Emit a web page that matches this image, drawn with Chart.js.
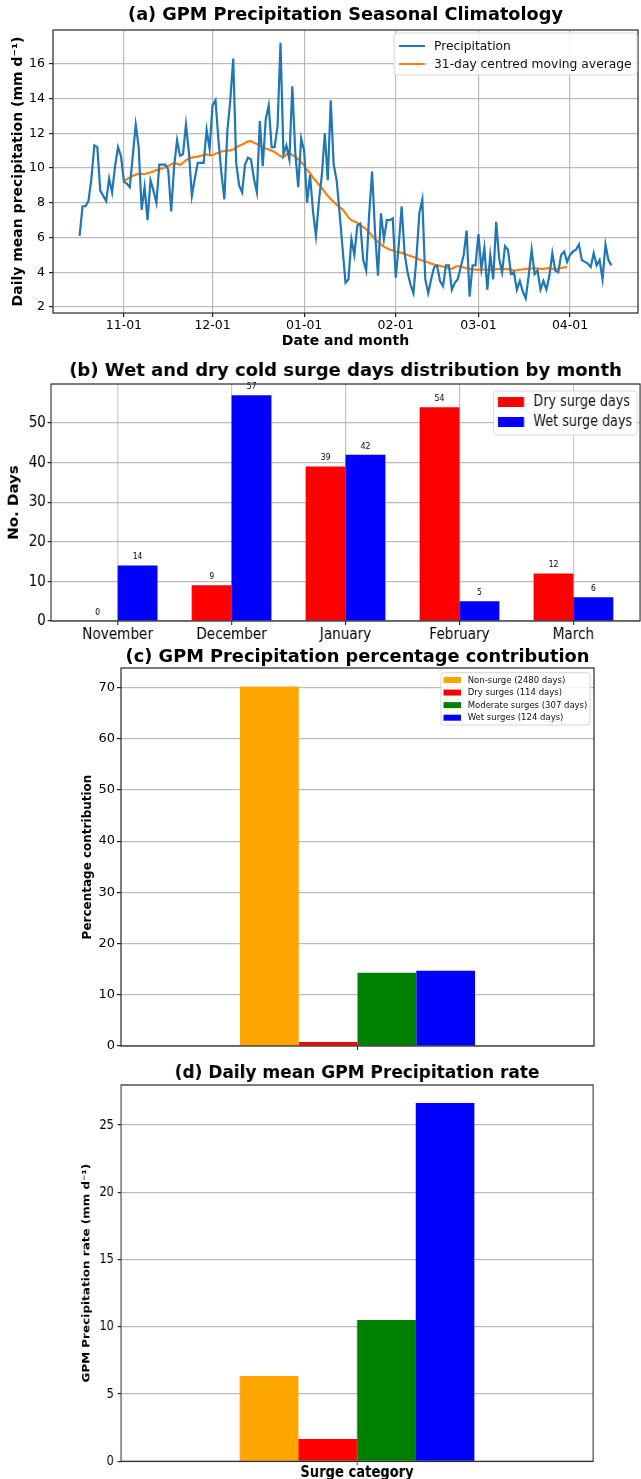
<!DOCTYPE html>
<html><head><meta charset="utf-8">
<script src="https://cdn.jsdelivr.net/npm/chart.js@4.4.1/dist/chart.umd.min.js"></script>
<style>
html,body{margin:0;padding:0;background:#fff;overflow:hidden;width:641px;height:1479px;position:relative;}
canvas{position:absolute;left:0;transform-origin:0 0;}
</style></head><body>
<canvas id="ca" width="641" height="350" style="top:0px"></canvas>
<canvas id="cb" width="754" height="310" style="top:345px;transform:scaleX(0.85)"></canvas>
<canvas id="cc" width="641" height="420" style="top:640px"></canvas>
<canvas id="cd" width="782" height="430" style="top:1055px;transform:scaleX(0.82)"></canvas>
<script>
// ---------- DATA ----------
// (a) daily climatology, season 10-17 .. 04-15
const seasonMonths = [['10',17,31],['11',1,30],['12',1,31],['01',1,31],['02',1,28],['03',1,31],['04',1,15]];
const dates = [];
seasonMonths.forEach(([m,a,b])=>{for(let d=a; d<=b; d++) dates.push(m+'-'+String(d).padStart(2,'0'));});
const precip = [
 6.1,7.8,7.8,8.1,9.4,11.3,11.2,8.7,8.4,8.1,9.4,8.6,10.1,11.2,10.7,
 9.2,9.1,8.9,10.7,12.5,11.2,7.6,8.9,7.0,9.3,8.7,8.0,10.2,10.2,10.2,9.9,7.5,10.1,11.6,10.7,10.8,12.5,10.9,8.4,9.4,10.3,10.3,10.3,12.2,11.1,
 13.6,13.9,11.6,9.7,8.2,12.1,13.9,16.3,10.3,9.0,8.6,10.2,10.6,10.5,9.4,8.6,12.7,10.1,12.8,13.6,11.2,11.2,12.4,17.2,10.8,11.3,10.5,14.7,10.9,8.9,11.7,
 11.0,8.0,9.6,7.5,6.1,8.1,9.6,12.0,9.3,13.9,10.2,9.3,7.4,5.4,3.4,3.6,5.9,5.0,6.7,6.8,4.7,4.1,7.3,9.8,6.3,3.8,7.4,5.9,7.0,7.0,7.1,
 3.7,5.5,7.8,5.1,4.0,3.3,2.8,4.8,7.4,8.2,3.6,2.8,3.6,4.3,4.4,3.5,3.2,4.4,4.4,3.0,3.4,3.6,4.3,5.0,6.4,2.6,4.4,4.4,
 6.2,4.2,5.4,3.0,5.0,3.6,6.9,4.8,4.0,5.5,5.3,3.9,4.0,3.0,3.5,2.9,2.5,3.8,5.3,3.9,4.1,3.0,3.5,3.0,3.8,5.1,4.1,4.0,5.0,5.2,4.6,
 5.0,5.2,5.3,5.6,4.7,4.6,4.5,4.3,5.1,4.4,4.7,3.6,5.6,4.7,4.4
];
const maStart = '11-01';
const movingAvg = [
 9.25,9.35,9.45,9.55,9.62,9.66,9.66,9.65,9.70,9.75,9.80,9.88,9.93,9.98,10.05,10.12,10.2,10.28,10.25,10.18,10.3,10.45,10.55,10.6,10.63,10.66,10.7,10.76,10.78,10.75,
 10.74,10.82,10.88,10.95,10.98,11.0,11.02,11.06,11.18,11.28,11.36,11.44,11.53,11.55,11.45,11.38,11.3,11.2,11.12,11.06,11.0,10.92,10.8,10.68,10.62,10.78,10.84,10.75,10.65,10.5,10.35,
 10.15,9.9,9.7,9.45,9.25,9.05,8.85,8.62,8.4,8.2,8.05,7.88,7.75,7.62,7.4,7.15,7.0,6.92,6.85,6.72,6.6,6.48,6.3,6.1,5.9,5.75,5.6,5.48,5.38,5.3,5.26,
 5.2,5.16,5.12,5.06,5.0,4.94,4.88,4.82,4.74,4.68,4.62,4.57,4.5,4.45,4.4,4.37,4.33,4.3,4.22,4.2,4.3,4.36,4.35,4.28,4.24,4.2,4.18,4.16,
 4.15,4.15,4.15,4.14,4.15,4.16,4.18,4.2,4.2,4.18,4.2,4.16,4.1,4.12,4.15,4.17,4.2,4.2,4.22,4.24,4.22,4.2,4.2,4.23,4.24,4.2,4.2,4.22,4.25,4.28,4.3
];
const tickLabelsA = ['11-01','12-01','01-01','02-01','03-01','04-01'];
const yTicksA = [2,4,6,8,10,12,14,16];

// (b) surge days by month
const months = ['November','December','January','February','March'];
const dryDays = [0,9,39,54,12];
const wetDays = [14,57,42,5,6];
const yTicksB = [0,10,20,30,40,50];

// (c),(d) surge categories
const surgeCats = ['Non-surge (2480 days)','Dry surges (114 days)','Moderate surges (307 days)','Wet surges (124 days)'];
const surgeColors = ['#ffa500','#ff0000','#008000','#0000ff'];
const contribution = [70.2,0.8,14.3,14.7];
const yTicksC = [0,10,20,30,40,50,60,70];
const rate = [6.35,1.66,10.51,26.64];
const yTicksD = [0,5,10,15,20,25];

// ---------- STYLE ----------
Chart.defaults.font.family = "'DejaVu Sans', sans-serif";
Chart.defaults.color = '#000';
const gridC = 'rgba(176,176,176,0.85)';

const framePlugin = {id:'frame', afterDraw(chart){
  const {ctx, chartArea:a} = chart; ctx.save();
  ctx.strokeStyle = '#262626'; ctx.lineWidth = 1.2;
  ctx.strokeRect(a.left, a.top, a.right-a.left, a.bottom-a.top); ctx.restore();
}};
function rr(ctx,x,y,w,h,r){ctx.beginPath();ctx.moveTo(x+r,y);ctx.lineTo(x+w-r,y);ctx.quadraticCurveTo(x+w,y,x+w,y+r);ctx.lineTo(x+w,y+h-r);ctx.quadraticCurveTo(x+w,y+h,x+w-r,y+h);ctx.lineTo(x+r,y+h);ctx.quadraticCurveTo(x,y+h,x,y+h-r);ctx.lineTo(x,y+r);ctx.quadraticCurveTo(x,y,x+r,y);ctx.closePath();}
function legendPlugin(id, c){ return {id, afterDraw(chart){
  const ctx = chart.ctx; ctx.save();
  rr(ctx,c.x,c.y,c.w,c.h,3); ctx.fillStyle='rgba(255,255,255,0.85)'; ctx.fill();
  ctx.strokeStyle='#d6d6d6'; ctx.lineWidth=1; ctx.stroke();
  ctx.font = c.font + "px 'DejaVu Sans'"; ctx.textBaseline='middle';
  chart.data.datasets.forEach((ds,i)=>{
    const y = c.y0 + i*c.dy;
    if (c.kind==='line'){ ctx.strokeStyle=ds.borderColor; ctx.lineWidth=2; ctx.beginPath(); ctx.moveTo(c.hx,y); ctx.lineTo(c.hx+c.hw,y); ctx.stroke(); }
    else { ctx.fillStyle=ds.backgroundColor; ctx.fillRect(c.hx, y-c.hh/2, c.hw, c.hh); }
    ctx.fillStyle='#111'; ctx.fillText(ds.label, c.tx, y+0.5);
  });
  ctx.restore();
}};}
const valueLabels = {id:'vals', afterDatasetsDraw(chart){
  const ctx = chart.ctx; ctx.save(); ctx.font = "9px 'DejaVu Sans'"; ctx.fillStyle='#000';
  ctx.textAlign='center'; ctx.textBaseline='middle';
  chart.data.datasets.forEach((ds,di)=>{
    chart.getDatasetMeta(di).data.forEach((el,i)=>{ ctx.fillText(String(ds.data[i].y), el.x, el.y-8.5); });
  });
  ctx.restore();
}};
const setTicks = arr => s => { s.ticks = arr.map(v=>({value:v})); };
const baseOpts = {responsive:false, animation:false, events:[]};
// the squeezed panels keep their title at natural width
function naturalTitle(chart, s){
  const tb = chart.titleBlock; if(!tb) return;
  const orig = tb.draw.bind(tb);
  tb.draw = function(){ const ctx = chart.ctx; const cx = (tb.left+tb.right)/2; ctx.save(); ctx.translate(cx,0); ctx.scale(1/s,1); ctx.translate(-cx,0); orig(); ctx.restore(); };
  chart.draw();
}

// ---------- (a) ----------
const maOffset = dates.indexOf(maStart);
new Chart(document.getElementById('ca'), {
  type:'line',
  data:{datasets:[
    {label:'Precipitation', data:precip.map((v,i)=>({x:i,y:v})), borderColor:'#1f77b4', borderWidth:2.2, pointRadius:0, tension:0},
    {label:'31-day centred moving average', data:movingAvg.map((v,i)=>({x:i+maOffset,y:v})), borderColor:'#ff7f0e', borderWidth:2.2, pointRadius:0, tension:0}
  ]},
  options:{...baseOpts,
    layout:{padding:{left:0,right:3,top:0,bottom:0}},
    plugins:{legend:{display:false}, tooltip:{enabled:false},
      title:{display:true, fullSize:false, text:'(a) GPM Precipitation Seasonal Climatology', font:{size:17.7,weight:'bold'}, color:'#000', padding:{top:4.4,bottom:4.36}}},
    scales:{
      x:{type:'linear', min:-9, max:189, afterBuildTicks:s=>{s.ticks = tickLabelsA.map(l=>({value:dates.indexOf(l)}));},
         ticks:{callback:v=>dates[v], font:{size:12.5}, color:'#000', padding:1.5, autoSkip:false, maxRotation:0},
         grid:{color:gridC, lineWidth:1.2, tickColor:'#222', tickLength:4}, border:{display:false},
         title:{display:true, text:'Date and month', font:{size:14,weight:'bold'}, color:'#000', padding:{top:0,bottom:0.6}},
         afterFit:s=>{s.height=37;}},
      y:{min:1.66, max:17.94, afterBuildTicks:setTicks(yTicksA),
         ticks:{font:{size:12.5}, color:'#000', padding:4},
         grid:{color:gridC, lineWidth:1.2, tickColor:'#222', tickLength:4}, border:{display:false},
         title:{display:true, text:'Daily mean precipitation (mm d\u207B\u00B9)', font:{size:14,weight:'bold'}, color:'#000', padding:{top:9.6,bottom:0}},
         afterFit:s=>{s.width=53;}}
    }},
  plugins:[framePlugin, legendPlugin('lga',{kind:'line', x:394, y:33, w:243, h:42, y0:46, dy:18, hx:399, hw:26, tx:434, font:12.3})]
});

// ---------- (b) ----------
const chartB = new Chart(document.getElementById('cb'), {
  type:'bar',
  data:{datasets:[
    {label:'Dry surge days', data:dryDays.map((v,i)=>({x:i,y:v})), backgroundColor:'#ff0000', borderWidth:0},
    {label:'Wet surge days', data:wetDays.map((v,i)=>({x:i,y:v})), backgroundColor:'#0000ff', borderWidth:0}
  ]},
  options:{...baseOpts, categoryPercentage:0.7, barPercentage:1.0,
    layout:{padding:{left:0,right:1,top:0,bottom:0}},
    plugins:{legend:{display:false}, tooltip:{enabled:false},
      title:{display:true, fullSize:false, text:'(b) Wet and dry cold surge days distribution by month', font:{size:18,weight:'bold'}, color:'#000', padding:{top:15.2,bottom:2.2}}},
    scales:{
      x:{type:'linear', offset:false, min:-0.585, max:4.585, afterBuildTicks:setTicks(months.map((m,i)=>i)),
         ticks:{callback:v=>months[v], font:{size:16}, color:'#000', padding:0.5, autoSkip:false, maxRotation:0},
         grid:{color:gridC, lineWidth:1.2, offset:false, tickColor:'#222', tickLength:4}, border:{display:false},
         afterFit:s=>{s.height=34;}},
      y:{min:0, max:59.85, afterBuildTicks:setTicks(yTicksB),
         ticks:{font:{size:16}, color:'#000', padding:2},
         grid:{color:gridC, lineWidth:1.2, tickColor:'#222', tickLength:4}, border:{display:false},
         title:{display:true, text:'No. Days', font:{size:15,weight:'bold'}, color:'#000', padding:{top:8.6,bottom:0}},
         afterFit:s=>{s.width=60;}}
    }},
  plugins:[framePlugin, valueLabels, legendPlugin('lgb',{kind:'box', x:580.6, y:46, w:168.8, h:44, y0:57, dy:20, hx:585.9, hw:30.6, hh:10, tx:627.6, font:15})]
});
naturalTitle(chartB, 0.85);

// ---------- (c) ----------
new Chart(document.getElementById('cc'), {
  type:'bar',
  data:{labels:[''], datasets:surgeCats.map((c,i)=>({label:c, data:[contribution[i]], backgroundColor:surgeColors[i], borderWidth:0}))},
  options:{...baseOpts, categoryPercentage:0.497, barPercentage:1.0,
    layout:{padding:{left:0,right:47,top:0,bottom:0}},
    plugins:{legend:{display:false}, tooltip:{enabled:false},
      title:{display:true, fullSize:false, text:'(c) GPM Precipitation percentage contribution', font:{size:17.8,weight:'bold'}, color:'#000', padding:{top:6.3,bottom:0.34}}},
    scales:{
      x:{ticks:{display:false}, grid:{display:true, drawOnChartArea:false, offset:false, tickColor:'#222', tickLength:4}, border:{display:false},
         afterFit:s=>{s.height=14;}},
      y:{min:0, max:73.8, afterBuildTicks:setTicks(yTicksC),
         ticks:{font:{size:13}, color:'#000', padding:2},
         grid:{color:gridC, lineWidth:1.2, tickColor:'#222', tickLength:4}, border:{display:false},
         title:{display:true, text:'Percentage contribution', font:{size:12,weight:'bold'}, color:'#000', padding:{top:80.8,bottom:0}},
         afterFit:s=>{s.width=121;}}
    }},
  plugins:[framePlugin, legendPlugin('lgc',{kind:'box', x:441, y:32.7, w:149, h:52.3, y0:40, dy:12.57, hx:443.5, hw:17.5, hh:6, tx:467.7, font:8.5})]
});

// ---------- (d) ----------
const chartD = new Chart(document.getElementById('cd'), {
  type:'bar',
  data:{labels:[''], datasets:surgeCats.map((c,i)=>({label:c, data:[rate[i]], backgroundColor:surgeColors[i], borderWidth:0}))},
  options:{...baseOpts, categoryPercentage:0.497, barPercentage:1.0,
    layout:{padding:{left:0,right:58.8,top:0,bottom:0}},
    plugins:{legend:{display:false}, tooltip:{enabled:false},
      title:{display:true, fullSize:false, text:'(d) Daily mean GPM Precipitation rate', font:{size:17,weight:'bold'}, color:'#000', padding:{top:8.8,bottom:0.8}}},
    scales:{
      x:{ticks:{display:false}, grid:{display:true, drawOnChartArea:false, offset:false, tickColor:'#222', tickLength:4}, border:{display:false},
         title:{display:true, text:'Surge category', font:{size:16,weight:'bold'}, color:'#000', padding:{top:0,bottom:2.4}},
         afterFit:s=>{s.height=23.7;}},
      y:{min:0, max:27.98, afterBuildTicks:setTicks(yTicksD),
         ticks:{font:{size:14}, color:'#000', padding:4.6},
         grid:{color:gridC, lineWidth:1.2, tickColor:'#222', tickLength:4}, border:{display:false},
         title:{display:true, text:'GPM Precipitation rate (mm d\u207B\u00B9)', font:{size:12,weight:'bold'}, color:'#000', padding:{top:98.8,bottom:0}},
         afterFit:s=>{s.width=147.6;}}
    }},
  plugins:[framePlugin]
});
naturalTitle(chartD, 0.82);
</script>
</body></html>
